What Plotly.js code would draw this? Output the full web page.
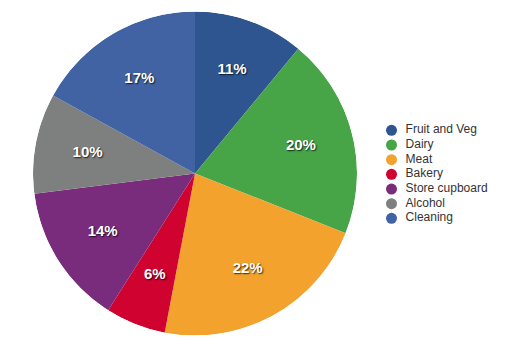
<!DOCTYPE html>
<html>
<head>
<meta charset="utf-8">
<script src="https://cdn.plot.ly/plotly-3.0.1.min.js"></script>
<style>html,body{margin:0;padding:0;background:#fff;}#chart{width:523px;height:362px;}</style>
</head>
<body>
<div id="chart"></div>
<script>
const categories = ["Fruit and Veg", "Dairy", "Meat", "Bakery", "Store cupboard", "Alcohol", "Cleaning"];
const values = [11, 20, 22, 6, 14, 10, 17];
const colors = ["#2e5590", "#47a447", "#f2a22d", "#d0022f", "#7a2c7c", "#7d807e", "#4163a3"];

const W = 523, H = 362;
const total = values.reduce((a, b) => a + b, 0);
// slice angular centres and widths (degrees) derived from the values
const widths = values.map(v => v / total * 360);
const mids = [];
let acc = 0;
widths.forEach(w => { mids.push(acc + w / 2); acc += w; });
const labelText = values.map(v => v + "%");

const slices = {
  type: "barpolar",
  r: values.map(() => 1),
  theta: mids,
  width: widths,
  marker: {color: colors, line: {width: 0}},
  hoverinfo: "none",
  showlegend: false,
  subplot: "polar"
};

const sliceLabels = {
  type: "scatterpolar",
  mode: "text",
  r: values.map(() => 0.675),
  theta: mids,
  text: labelText,
  textposition: "middle center",
  textfont: {family: "Liberation Sans, Arial, sans-serif", size: 15, weight: "bold", color: "#ffffff", shadow: "1px 1px 1.5px rgba(0,0,0,0.75)"},
  cliponaxis: false,
  hoverinfo: "none",
  showlegend: false,
  subplot: "polar"
};

const legendMarkers = {
  type: "scatter",
  mode: "markers",
  x: categories.map(() => 0),
  y: categories,
  marker: {color: colors, size: 11, symbol: "circle", line: {width: 0}},
  cliponaxis: false,
  hoverinfo: "none",
  showlegend: false
};

const legendTextX = 0.107;
const legendText = {
  type: "scatter",
  mode: "text",
  x: categories.map(() => legendTextX),
  y: categories,
  text: categories,
  textposition: "middle right",
  textfont: {family: "Liberation Sans, Arial, sans-serif", size: 12, color: "#333333"},
  cliponaxis: false,
  hoverinfo: "none",
  showlegend: false
};

const layout = {
  width: W, height: H,
  margin: {l: 0, r: 0, t: 0, b: 0},
  paper_bgcolor: "#ffffff",
  plot_bgcolor: "rgba(0,0,0,0)",
  showlegend: false,
  polar: {
    domain: {x: [33 / W, 357 / W], y: [1 - 335.5 / H, 1 - 11.5 / H]},
    bgcolor: "rgba(0,0,0,0)",
    bargap: 0,
    hole: 0,
    radialaxis: {range: [0, 1], visible: false},
    angularaxis: {rotation: 90, direction: "clockwise", visible: false}
  },
  xaxis: {domain: [391.5 / W, 1], range: [0, 1], visible: false, fixedrange: true},
  yaxis: {domain: [1 - 225.7 / H, 1 - 123 / H], type: "category", categoryorder: "array", categoryarray: categories, range: [6.5, -0.5], visible: false, fixedrange: true}
};

Plotly.newPlot("chart", [slices, sliceLabels, legendMarkers, legendText], layout, {staticPlot: true, displayModeBar: false});
</script>
</body>
</html>
